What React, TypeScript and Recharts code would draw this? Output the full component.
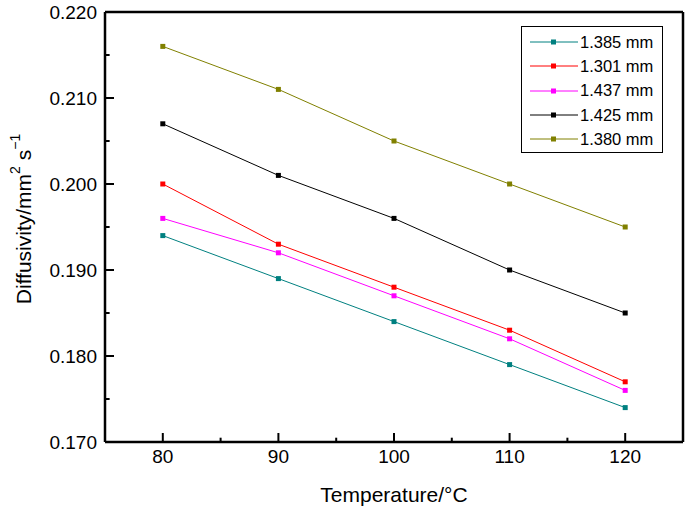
import React from 'react';
import { LineChart, Line, XAxis, YAxis, ReferenceLine } from 'recharts';

// temperatures (°C)
const temps = [80, 90, 100, 110, 120];

// diffusivity (mm2/s) per sample thickness
const d1385 = [0.194, 0.189, 0.184, 0.179, 0.174];
const d1301 = [0.2, 0.193, 0.188, 0.183, 0.177];
const d1437 = [0.196, 0.192, 0.187, 0.182, 0.176];
const d1425 = [0.207, 0.201, 0.196, 0.19, 0.185];
const d1380 = [0.216, 0.211, 0.205, 0.2, 0.195];

const xTicks = [80, 90, 100, 110, 120];
const xMinor = [85, 95, 105, 115];
const yTicks = [0.17, 0.18, 0.19, 0.2, 0.21, 0.22];
const yMinor = [0.175, 0.185, 0.195, 0.205, 0.215];

const SERIES = [
  { key: 's1385', name: '1.385 mm', values: d1385, color: '#008080' },
  { key: 's1301', name: '1.301 mm', values: d1301, color: '#ff0000' },
  { key: 's1437', name: '1.437 mm', values: d1437, color: '#ff00ff' },
  { key: 's1425', name: '1.425 mm', values: d1425, color: '#000000' },
  { key: 's1380', name: '1.380 mm', values: d1380, color: '#808000' },
];

const data = temps.map((t, i) => {
  const row: any = { t };
  SERIES.forEach((s) => (row[s.key] = s.values[i]));
  return row;
});

const FONT = '"Liberation Sans", Arial, Helvetica, sans-serif';
const tickFont = { fontSize: 19, fontFamily: FONT, fill: '#000' };

const squareDot = (color: string) => (p: any) => (
  <rect key={`${color}-${p.index}`} x={p.cx - 2.5} y={p.cy - 2.5} width={5} height={5} fill={color} />
);

const LegendBox = () => (
  <div
    style={{
      position: 'absolute',
      left: 521,
      top: 26,
      border: '1.5px solid #000',
      background: '#fff',
      width: 142,
      height: 127,
      boxSizing: 'border-box',
      paddingTop: 3,
      fontFamily: FONT,
      fontSize: 16.5,
    }}
  >
    {SERIES.map((s) => (
      <div key={s.key} style={{ display: 'flex', alignItems: 'center', height: 24.3 }}>
        <svg width={58} height={10}>
          <line x1={8} x2={56} y1={5} y2={5} stroke={s.color} strokeWidth={1} />
          <rect x={29} y={2.5} width={5} height={5} fill={s.color} />
        </svg>
        <span style={{ color: '#000', whiteSpace: 'nowrap' }}>{s.name}</span>
      </div>
    ))}
  </div>
);

export default function App() {
  return (
    <div style={{ position: 'absolute', left: 0, top: 0, width: 685, height: 508, background: '#fff' }}>
      <LineChart width={685} height={508} data={data} margin={{ top: 12, right: 2, left: 0, bottom: 0 }}>
        <XAxis
          dataKey="t"
          type="number"
          domain={[75, 125]}
          ticks={xTicks}
          interval={0}
          height={66}
          tickSize={-9}
          tickMargin={17}
          tickLine={{ stroke: '#000', strokeWidth: 2 }}
          axisLine={{ stroke: '#000', strokeWidth: 2.5 }}
          tick={tickFont}
          label={{
            value: 'Temperature/°C',
            position: 'insideBottom',
            offset: 6,
            style: { fontSize: 21, fontFamily: FONT, fill: '#000' },
          }}
        />
        <YAxis
          type="number"
          domain={[0.17, 0.22]}
          ticks={yTicks}
          interval={0}
          width={105}
          tickSize={-9}
          tickMargin={17}
          tickLine={{ stroke: '#000', strokeWidth: 2 }}
          axisLine={{ stroke: '#000', strokeWidth: 2.5 }}
          tick={tickFont}
          tickFormatter={(v: number) => v.toFixed(3)}
          label={(p: any) => {
            const vb = p.viewBox || {};
            const cx = 23;
            const cy = (vb.y ?? 12) + (vb.height ?? 430) / 2 - 8;
            return (
              <text
                x={cx}
                y={cy}
                transform={`rotate(-90 ${cx} ${cy})`}
                textAnchor="middle"
                dominantBaseline="central"
                fontSize={21}
                fontFamily={FONT}
                fill="#000"
              >
                Diffusivity/mm
                <tspan fontSize={14} dy={-8}>2</tspan>
                <tspan dy={8}> s</tspan>
                <tspan fontSize={14} dy={-8}>−1</tspan>
              </text>
            );
          }}
        />
        <ReferenceLine y={0.22} stroke="#000" strokeWidth={2.5} />
        <ReferenceLine x={125} stroke="#000" strokeWidth={2.5} />
        {xMinor.map((v) => (
          <ReferenceLine
            key={`xm-${v}`}
            segment={[{ x: v, y: 0.17 }, { x: v, y: 0.1705 }]}
            stroke="#000"
            strokeWidth={2}
          />
        ))}
        {yMinor.map((v) => (
          <ReferenceLine
            key={`ym-${v}`}
            segment={[{ x: 75, y: v }, { x: 75.4, y: v }]}
            stroke="#000"
            strokeWidth={2}
          />
        ))}
        {SERIES.map((s) => (
          <Line
            key={s.key}
            dataKey={s.key}
            name={s.name}
            type="linear"
            stroke={s.color}
            strokeWidth={1}
            dot={squareDot(s.color)}
            activeDot={false}
            isAnimationActive={false}
          />
        ))}
      </LineChart>
      <LegendBox />
    </div>
  );
}
